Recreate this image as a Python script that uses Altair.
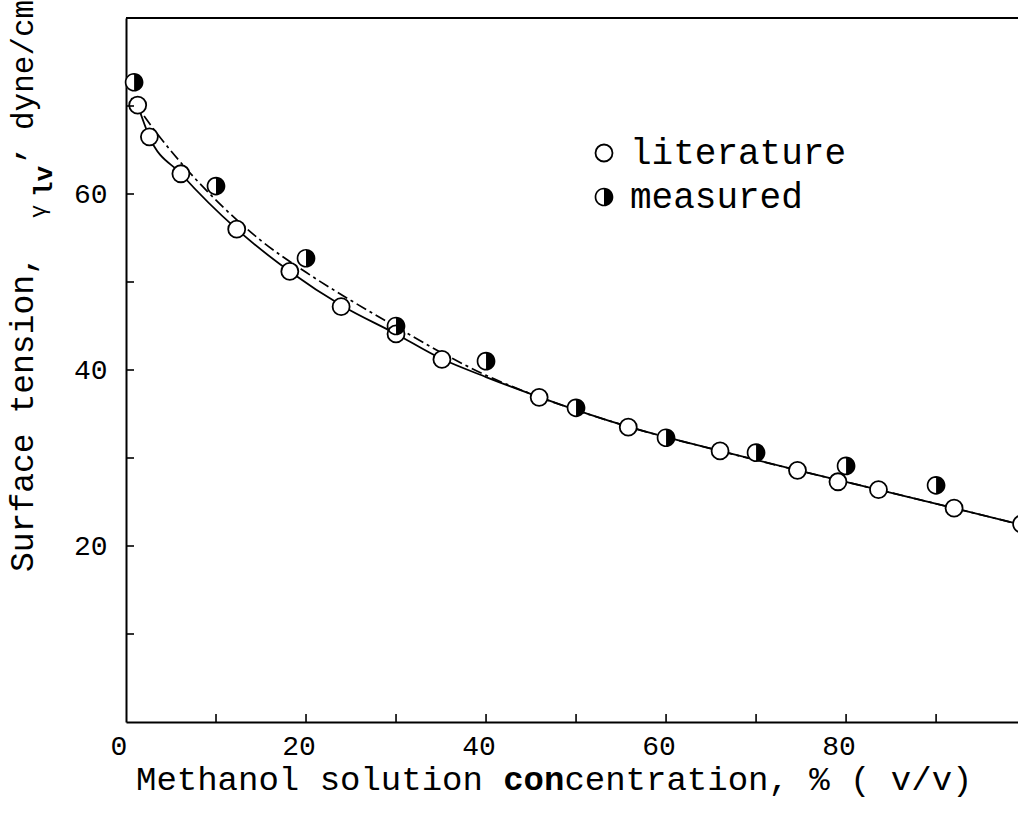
import altair as alt
import pandas as pd

FONT = "Liberation Mono"

# Literature surface tension (open circles)
lit_conc = [1.3, 2.6, 6.1, 12.3, 18.2, 23.9, 30.0, 35.1, 45.9, 55.8, 66.0, 74.6, 79.1, 83.6, 92.0]
lit_tension = [70.1, 66.5, 62.3, 56.0, 51.2, 47.2, 44.1, 41.2, 36.9, 33.5, 30.8, 28.6, 27.3, 26.4, 24.3]

# Measured surface tension (half-filled circles)
meas_conc = [0.9, 10, 20, 30, 40, 50, 60, 70, 80, 90, 99.5]
meas_tension = [72.7, 60.9, 52.7, 45.0, 41.0, 35.7, 32.3, 30.6, 29.1, 26.9, 22.5]

# Smooth curve through the literature values (solid)
fit_lit_conc = [1.3, 2.6, 6.1, 12.3, 18.2, 24, 30, 35, 40, 46, 56, 66, 75, 84, 92, 99.1]
fit_lit_tension = [70.1, 66.5, 62.3, 56.0, 51.2, 47.3, 44.1, 41.3, 39.2, 36.9, 33.5, 30.8, 28.5, 26.3, 24.3, 22.5]

# Smooth curve through the measured values (dash-dot)
fit_meas_conc = [0.6, 3.2, 5.4, 10, 15, 20, 25, 30, 35, 40, 46, 56, 66, 75, 84, 92, 99.1]
fit_meas_tension = [70.9, 67.2, 64.4, 59.3, 54.7, 51.1, 47.9, 44.9, 42.0, 39.4, 36.9, 33.5, 30.8, 28.5, 26.3, 24.3, 22.5]

x_tick_values = [10, 20, 30, 40, 50, 60, 70, 80, 90]
y_tick_values = [10, 20, 30, 40, 50, 60, 70]
x_label_values = [0, 20, 40, 60, 80]
x_label_texts = ["0", "20", "40", "60", "80"]
y_label_values = [20, 40, 60]

series_names = ["literature", "measured"]

W, H = 892, 704
X_MAX, Y_MAX = 99.1, 80
TICK_FONT = 28

# ring with the right half filled, in unit symbol coordinates
HALF_FILLED = (
    "M0,-1.1A1.1,1.1,0,1,1,0,1.1A1.1,1.1,0,1,1,0,-1.1Z"
    "M0,-0.9A0.9,0.9,0,1,0,0,0.9A0.9,0.9,0,1,0,0,-0.9Z"
    "M0,-1.1A1.1,1.1,0,0,1,0,1.1Z"
)

points = pd.concat([
    pd.DataFrame({"conc": lit_conc, "tension": lit_tension, "series": "literature"}),
    pd.DataFrame({"conc": meas_conc, "tension": meas_tension, "series": "measured"}),
])
measured = pd.DataFrame({"conc": meas_conc, "tension": meas_tension})
fit_lit = pd.DataFrame({"conc": fit_lit_conc, "tension": fit_lit_tension})
fit_meas = pd.DataFrame({"conc": fit_meas_conc, "tension": fit_meas_tension})

x_enc = alt.X(
    "conc:Q",
    scale=alt.Scale(domain=[0, X_MAX], nice=False, zero=False),
    axis=alt.Axis(values=x_label_values, ticks=False, grid=False, title=None,
                  domainColor="black", domainWidth=2, labels=False),
)
y_enc = alt.Y(
    "tension:Q",
    scale=alt.Scale(domain=[0, Y_MAX], nice=False, zero=False),
    axis=alt.Axis(values=y_label_values, ticks=False, grid=False, title=None,
                  domainColor="black", domainWidth=2, labelFont=FONT,
                  labelFontSize=TICK_FONT, labelColor="black", labelPadding=19,
                  labelOverlap=False),
)

solid = alt.Chart(fit_lit).mark_line(
    color="black", strokeWidth=1.8, interpolate="monotone"
).encode(x=x_enc, y=y_enc)

dashed = alt.Chart(fit_meas).mark_line(
    color="black", strokeWidth=1.7, interpolate="monotone", strokeDash=[11, 4, 3, 4]
).encode(x="conc:Q", y="tension:Q")

meas_base = alt.Chart(measured).mark_point(
    shape="circle", filled=True, color="white", size=330, opacity=1
).encode(x="conc:Q", y="tension:Q")

legend = alt.Legend(
    title=None, orient="none", legendX=460, legendY=117, padding=0,
    labelFont=FONT, labelFontSize=36, labelColor="black", labelOffset=8,
    labelLimit=0, symbolSize=289, symbolStrokeWidth=1.8, rowPadding=8,
)

marks = alt.Chart(points).mark_point(
    filled=True, size=289, strokeWidth=1.8, opacity=1
).encode(
    x="conc:Q",
    y="tension:Q",
    shape=alt.Shape("series:N", scale=alt.Scale(domain=series_names, range=["circle", HALF_FILLED]), legend=legend),
    fill=alt.Fill("series:N", scale=alt.Scale(domain=series_names, range=["white", "black"]), legend=legend),
    stroke=alt.Stroke("series:N", scale=alt.Scale(domain=series_names, range=["black", "transparent"]), legend=legend),
)

# inward tick marks
x_ticks = alt.Chart(pd.DataFrame({"conc": x_tick_values})).mark_rule(
    color="black", strokeWidth=1.6
).encode(x="conc:Q", y=alt.value(H), y2=alt.value(H - 8))

y_ticks = alt.Chart(pd.DataFrame({"tension": y_tick_values})).mark_rule(
    color="black", strokeWidth=1.6
).encode(y="tension:Q", x=alt.value(0), x2=alt.value(8))

# x tick labels, set a little left of their ticks
x_labels = alt.Chart(pd.DataFrame({"conc": x_label_values, "txt": x_label_texts})).mark_text(
    font=FONT, fontSize=TICK_FONT, color="black", align="center", baseline="middle", dx=-7
).encode(x="conc:Q", y=alt.value(H + 25), text="txt:N")

top_line = alt.Chart(pd.DataFrame({"a": [0]})).mark_rule(
    color="black", strokeWidth=2
).encode(x=alt.value(0), x2=alt.value(W), y=alt.value(0))


def label(text, x, y, size, weight="normal", angle=0):
    return alt.Chart(pd.DataFrame({"a": [0]})).mark_text(
        font=FONT, fontSize=size, fontWeight=weight, align="left",
        baseline="alphabetic", angle=angle, color="black",
    ).encode(x=alt.value(x), y=alt.value(y), text=alt.value(text))


# x-axis title, "con" struck bold
X_TITLE_SIZE = 34
x_title_parts = [("Methanol solution ", "normal"), ("con", "bold"), ("centration, % ( v/v)", "normal")]
x_title_layers = []
pos = 10
for txt, wt in x_title_parts:
    x_title_layers.append(label(txt, pos, 772, X_TITLE_SIZE, wt))
    pos += len(txt) * 0.6 * X_TITLE_SIZE

# y-axis title with subscript "lv"
y_title_layers = [
    label("Surface tension,", -93, 554, 33, angle=270),
    label("\u03b3", -81, 200, 22, angle=270),
    label("lv", -74, 179, 26, "bold", angle=270),
    label("\u2019", -86, 148, 33, angle=270),
    label("dyne/cm", -93, 112, 31, angle=270),
]

chart = alt.layer(
    solid, dashed, meas_base, marks, x_ticks, y_ticks, x_labels, top_line,
    *x_title_layers, *y_title_layers,
).properties(
    width=W, height=H,
    autosize=alt.AutoSizeParams(type="none"),
    padding={"left": 126, "top": 18, "right": 0, "bottom": 106},
    background="white",
).configure_view(stroke=None)

chart.save("out.html", embed_options={"renderer": "svg", "actions": False})
